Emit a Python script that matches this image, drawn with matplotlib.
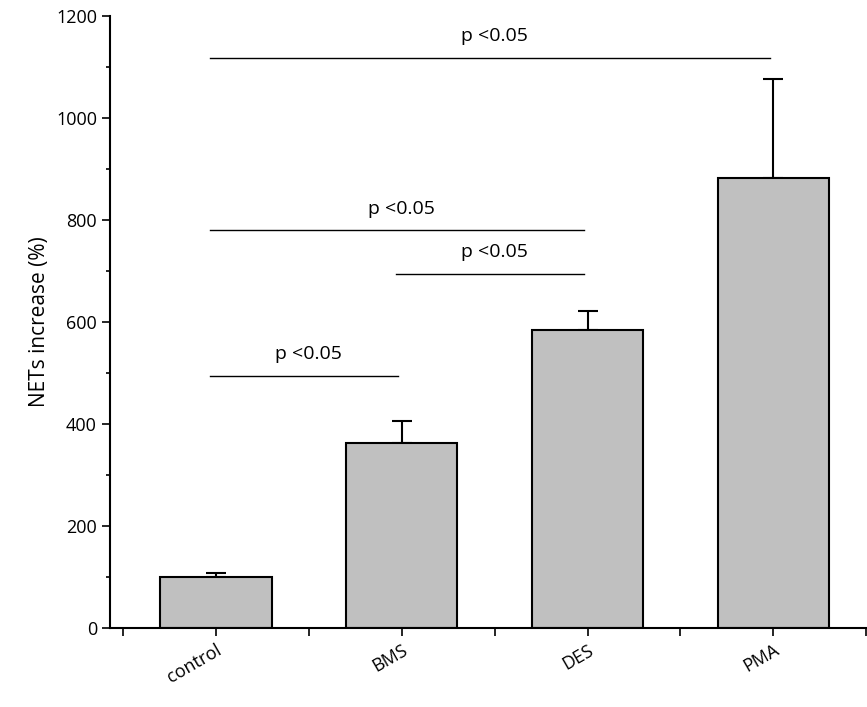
import matplotlib
matplotlib.use("Agg")
import matplotlib.pyplot as plt
from matplotlib.ticker import MultipleLocator

plt.rcParams["font.family"] = "Open Sans"

groups = ["control", "BMS", "DES", "PMA"]
means = [100, 362, 585, 882]
errors = [8, 43, 37, 195]
# significance brackets: (from group index, to group index, y level)
sig_from = [0, 0, 1, 0]
sig_to = [1, 2, 2, 3]
sig_y = [495, 780, 695, 1118]
sig_text = ["p <0.05"] * 4

fig = plt.figure(figsize=(8.67, 7.07), dpi=100)
ax = fig.add_axes([0.127, 0.112, 0.872, 0.865])

x = [1, 2, 3, 4]
ax.bar(x, means, width=0.6, color="#c0c0c0", edgecolor="black", linewidth=1.5, zorder=2)
ax.errorbar(x, means, yerr=[[0] * 4, errors], fmt="none", ecolor="black",
            elinewidth=1.5, capsize=7, capthick=1.5, zorder=1)

for a, b, y, t in zip(sig_from, sig_to, sig_y, sig_text):
    ax.plot([x[a] - 0.03, x[b] - 0.02], [y, y], color="black", lw=1)
    ax.text((x[a] + x[b]) / 2, y + 25, t, ha="center", va="bottom", fontsize=14)

ax.set_xlim(0.43, 4.5)
ax.set_ylim(0, 1200)
ax.yaxis.set_major_locator(MultipleLocator(200))
ax.yaxis.set_minor_locator(MultipleLocator(100))
ax.set_xticks(x)
ax.set_xticks([0.5, 1.5, 2.5, 3.5, 4.5], minor=True)
ax.set_xticklabels(groups, rotation=30, ha="right", rotation_mode="anchor", fontsize=13)
ax.tick_params(axis="y", labelsize=13, length=6, width=1.2)
ax.tick_params(axis="y", which="minor", length=3, width=1.2)
ax.tick_params(axis="x", which="both", length=6, width=1.2)
for s in ["top", "right"]:
    ax.spines[s].set_visible(False)
for s in ["left", "bottom"]:
    ax.spines[s].set_linewidth(1.5)
ax.set_ylabel("NETs increase (%)", fontsize=15)

fig.savefig("out.png", dpi=100)
